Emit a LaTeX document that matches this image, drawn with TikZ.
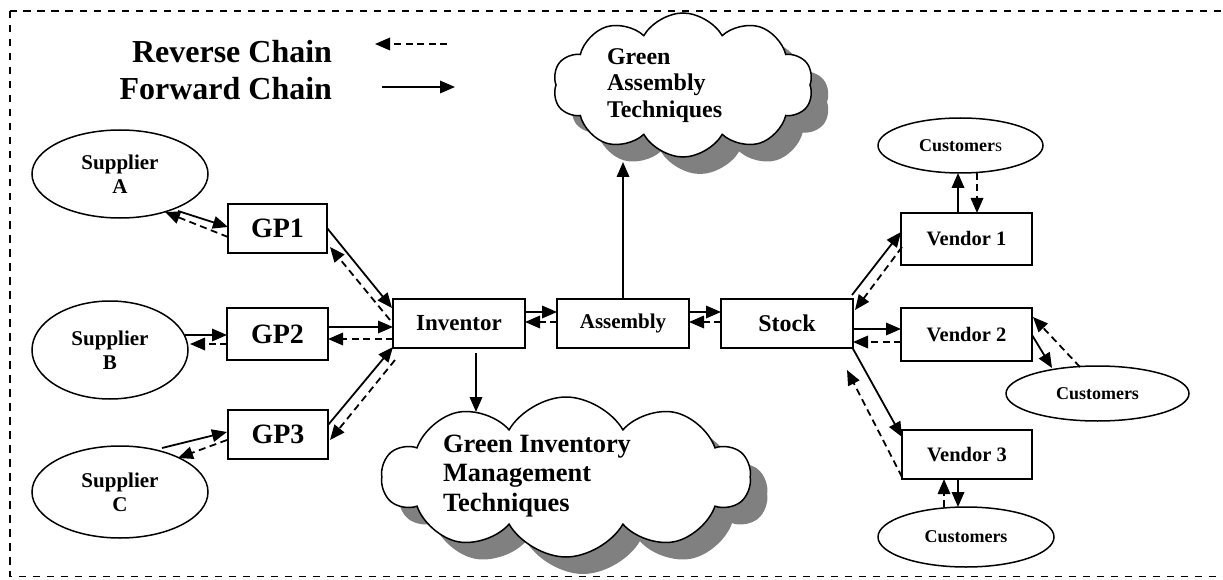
\documentclass[tikz,border=0pt]{standalone}
\usepackage{fontspec}
\setmainfont{Liberation Serif}
\usetikzlibrary{arrows.meta,shapes.geometric,shapes.symbols,shadows,calc}

\definecolor{shadowgray}{RGB}{128,128,128}
\newcommand{\fsz}[2]{\fontsize{#1pt}{#2pt}\selectfont\bfseries}

\begin{document}
\begin{tikzpicture}[x=1pt,y=-1pt,
  every node/.style={inner sep=0pt, outer sep=0pt},
  box/.style={draw, line width=1.7pt, rectangle},
  oval/.style={draw, line width=1.5pt, ellipse, align=center},
  fwd/.style={line width=1.8pt, -{Triangle[length=15pt,width=12.5pt]}},
  rev/.style={line width=1.8pt, dash pattern=on 7pt off 4.5pt, -{Triangle[length=15pt,width=12.5pt]}},
  puff/.style={draw, line width=1.5pt, fill=white, cloud, cloud puffs=10,
    cloud puff arc=120, cloud ignores aspect,
    general shadow={fill=shadowgray, draw=none, shadow xshift=17pt, shadow yshift=-17pt}},
]
\useasboundingbox (0,0) rectangle (1223,580);

% outer dashed frame
\draw[line width=1.7pt, dash pattern=on 7.5pt off 6.5pt] (10,11) rectangle (1240,576.5);

% legend
\node[anchor=base east, font=\fsz{32}{37}] (lrev) at (332,63) {Reverse Chain};
\node[anchor=base east, font=\fsz{32}{37}] (lfwd) at (332,100) {Forward Chain};
\coordinate (revA) at (447,44);
\coordinate (revB) at (375,44);
\coordinate (fwdA) at (382,87);
\coordinate (fwdB) at (455,87);
\draw[rev] (revA) -- (revB);
\draw[fwd] (fwdA) -- (fwdB);

% clouds
\node[puff, minimum width=260pt, minimum height=144pt] (gat) at (683,85) {};
\node[anchor=north west, align=left, font=\fsz{24}{26.5}] (gattxt) at (607,48.5) {Green\\Assembly\\Techniques};
\node[puff, minimum width=368pt, minimum height=160pt] (gim) at (566,477) {};
\node[anchor=north west, align=left, font=\fsz{26.4}{29.5}] (gimtxt) at (443,435) {Green Inventory\\Management\\Techniques};

% suppliers
\node[oval, minimum width=176pt, minimum height=88pt, font=\fsz{21}{24}] (supA) at (120,174) {Supplier\\A};
\node[oval, minimum width=156pt, minimum height=98pt, font=\fsz{21}{24}] (supB) at (110,350) {Supplier\\B};
\node[oval, minimum width=176pt, minimum height=92pt, font=\fsz{21}{24}] (supC) at (120,492) {Supplier\\C};

% green purchasing boxes
\node[box, minimum width=99pt, minimum height=49pt, font=\fsz{28}{30}] (gp1) at (277.5,228.5) {GP1};
\node[box, minimum width=101pt, minimum height=52pt, font=\fsz{28}{30}] (gp2) at (277.5,334) {GP2};
\node[box, minimum width=100pt, minimum height=49pt, font=\fsz{28}{30}] (gp3) at (278,434.5) {GP3};

% main chain
\node[box, minimum width=132pt, minimum height=49pt, font=\fsz{23}{25}] (inv) at (459,323.5) {Inventor};
\node[box, minimum width=132pt, minimum height=49pt, font=\fsz{21}{23}] (asm) at (623,323.5) {Assembly};
\node[box, minimum width=132pt, minimum height=49pt, font=\fsz{24}{26}] (stk) at (787,323.5) {Stock};

% vendors
\node[box, minimum width=131pt, minimum height=52pt, font=\fsz{20.5}{23}] (v1) at (966.5,239) {Vendor 1};
\node[box, minimum width=131pt, minimum height=53pt, font=\fsz{20.5}{23}] (v2) at (966.5,334.5) {Vendor 2};
\node[box, minimum width=130pt, minimum height=49pt, font=\fsz{20.5}{23}] (v3) at (967,454.5) {Vendor 3};

% customers
\node[oval, minimum width=165pt, minimum height=55pt, font=\fsz{18}{20}] (c1) at (960.5,145.5) {Customer{\mdseries s}};
\node[oval, minimum width=183pt, minimum height=55pt, font=\fsz{18}{20}] (c2) at (1097.5,393.5) {Customers};
\node[oval, minimum width=176pt, minimum height=60pt, font=\fsz{18}{20}] (c3) at (966,537) {Customers};

% suppliers <-> green purchasing
\draw[fwd] ($(supA.center)+(58,37)$) -- ($(gp1.west)+(0,-1.5)$);
\draw[rev] ($(gp1.west)+(0,8.5)$) -- ($(supA.center)+(45,38)$);
\draw[fwd] ($(supB.center)+(75,-15)$) -- ($(gp2.west)+(0,1)$);
\draw[rev] ($(gp2.west)+(0,10)$) -- ($(supB.center)+(80,-6)$);
\draw[fwd] ($(supC.center)+(42,-44)$) -- ($(gp3.west)+(-1,-2.5)$);
\draw[rev] ($(gp3.west)+(-1,5.5)$) -- ($(supC.center)+(58,-34)$);

% green purchasing <-> inventor
\draw[fwd] ($(gp1.east)+(0,-0.5)$) -- ($(inv.north west)+(-1,9)$);
\draw[rev] ($(inv.west)+(-3,-3.5)$) -- ($(gp1.south east)+(3,-6)$);
\draw[fwd] ($(gp2.east)+(0,-7)$) -- ($(inv.west)+(0,3.5)$);
\draw[rev] ($(inv.west)+(0,15.5)$) -- ($(gp2.east)+(0,5)$);
\draw[fwd] ($(gp3.east)+(0,-9.5)$) -- ($(inv.south west)+(0,-1)$);
\draw[rev] ($(inv.south west)+(2,12)$) -- ($(gp3.east)+(2,5.5)$);

% inventor <-> assembly <-> stock
\draw[fwd] ($(inv.east)+(0,-11.5)$) -- ($(asm.west)+(0,-11.5)$);
\draw[rev] ($(asm.west)+(0,-1.5)$) -- ($(inv.east)+(0,-1.5)$);
\draw[fwd] ($(asm.east)+(0,-11.5)$) -- ($(stk.west)+(0,-11.5)$);
\draw[rev] ($(stk.west)+(0,-1.5)$) -- ($(asm.east)+(0,-1.5)$);

% links to the green technique clouds
\draw[fwd] (asm.north) -- ($(gat.center)+(-60,77)$);
\draw[fwd] ($(inv.south)+(17,5)$) -- ($(gim.center)+(-90,-65)$);

% stock <-> vendors
\draw[fwd] ($(stk.north east)+(-1,-4)$) -- ($(v1.west)+(0,-7)$);
\draw[rev] ($(v1.west)+(1,8)$) -- ($(stk.north east)+(2,11)$);
\draw[fwd] ($(stk.east)+(0,5.5)$) -- ($(v2.west)+(0,-5.5)$);
\draw[rev] ($(v2.west)+(0,7.5)$) -- ($(stk.east)+(0,18.5)$);
\draw[fwd] ($(stk.south east)+(-1,-1)$) -- ($(v3.west)+(0,-17.5)$);
\draw[rev] ($(v3.south west)+(0,-2)$) -- ($(stk.south east)+(-6,22)$);

% vendors <-> customers
\draw[fwd] ($(v1.north)+(-8.5,0)$) -- ($(c1.south)+(-2.5,0)$);
\draw[rev] ($(c1.south)+(16.5,0)$) -- ($(v1.north)+(10.5,0)$);
\draw[fwd] ($(v2.east)+(0,0.5)$) -- ($(c2.center)+(-45.5,-25.5)$);
\draw[rev] ($(c2.center)+(-17.5,-26.5)$) -- ($(v2.north east)+(1,9)$);
\draw[fwd] ($(v3.south)+(-9,0)$) -- ($(c3.north)+(-8,0)$);
\draw[rev] ($(c3.north)+(-22,0)$) -- ($(v3.south)+(-23,0)$);
\end{tikzpicture}
\end{document}
